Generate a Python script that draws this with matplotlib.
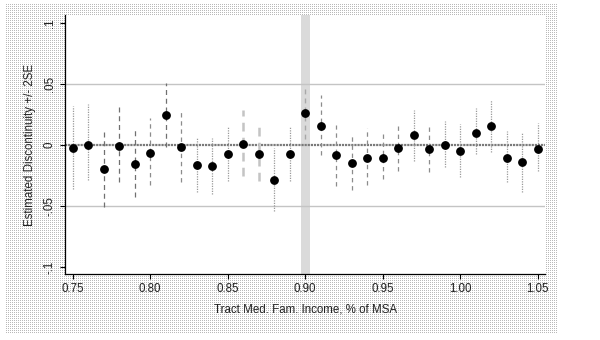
import numpy as np
import matplotlib
matplotlib.use("Agg")
import matplotlib.pyplot as plt

# Income cutoff bins (tract median family income as share of MSA median)
income = [0.75, 0.76, 0.77, 0.78, 0.79, 0.80, 0.81, 0.82, 0.83, 0.84, 0.85,
          0.86, 0.87, 0.88, 0.89, 0.90, 0.91, 0.92, 0.93, 0.94, 0.95, 0.96,
          0.97, 0.98, 0.99, 1.00, 1.01, 1.02, 1.03, 1.04, 1.05]

# Estimated discontinuity at each cutoff
estimate = [-0.0027, 0.0000, -0.0198, -0.0008, -0.0157, -0.0063, 0.0247,
            -0.0019, -0.0165, -0.0173, -0.0074, 0.0011, -0.0071, -0.0288,
            -0.0077, 0.0266, 0.0157, -0.0082, -0.0146, -0.0104, -0.0104,
            -0.0025, 0.0080, -0.0033, 0.0003, -0.0047, 0.0099, 0.0157,
            -0.0104, -0.0143, -0.0030]

# Lower and upper ends of +/- 2SE interval
lower = [-0.0357, -0.0288, -0.0508, -0.0302, -0.0426, -0.0324, -0.0014,
         -0.0302, -0.0385, -0.0398, -0.0294, -0.0255, -0.0294, -0.0544,
         -0.0294, 0.0052, -0.0082, -0.0335, -0.0371, -0.0324, -0.0280,
         -0.0214, -0.0132, -0.0220, -0.0179, -0.0261, -0.0077, -0.0060,
         -0.0302, -0.0385, -0.0212]
upper = [0.0324, 0.0335, 0.0110, 0.0324, 0.0124, 0.0220, 0.0508,
         0.0275, 0.0069, 0.0055, 0.0151, 0.0288, 0.0157, -0.0022,
         0.0157, 0.0480, 0.0407, 0.0165, 0.0082, 0.0137, 0.0096,
         0.0173, 0.0288, 0.0157, 0.0200, 0.0173, 0.0302, 0.0371,
         0.0115, 0.0110, 0.0179]

xticks = [0.75, 0.80, 0.85, 0.90, 0.95, 1.00, 1.05]
yticks = [-0.1, -0.05, 0, 0.05, 0.1]
ytick_labels = ["-.1", "-.05", "0", ".05", ".1"]
cutoff = 0.90

# Line style used for each interval
bar_style = ["dot", "dot", "dash", "dash", "dash", "dashm", "dash", "dashm",
             "dot", "dot", "dot", "thick", "thick", "dot", "dot", "dashl",
             "dashm", "dashm", "dashm", "dashm", "dashm", "dashm", "dot",
             "dashm", "dot", "dot", "dot", "dot", "dot", "dot", "dot"]
styles = {
    "dot":   dict(color="#9a9a9a", lw=0.9, ls=(0, (1, 1))),
    "dash":  dict(color="#707070", lw=0.9, ls=(0, (4, 3))),
    "dashm": dict(color="#8c8c8c", lw=0.9, ls=(0, (3.5, 3))),
    "dashl": dict(color="#a8a8a8", lw=1.0, ls=(0, (3.5, 3))),
    "thick": dict(color="#c4c4c4", lw=1.8, ls=(0, (3.5, 2.5))),
}

plt.rcParams["font.family"] = ["Liberation Sans", "DejaVu Sans"]

W, H = 600, 340
fig = plt.figure(figsize=(W / 100, H / 100), dpi=100, facecolor="white")

# Stippled outer frame
pat = np.ones((H, W, 3))
yy, xx = np.mgrid[0:H, 0:W]
inside = (xx >= 5) & (xx < 557) & (yy >= 4) & (yy < 334)
dots = inside & (xx % 2 == 0) & (yy % 2 == 0)
pat[dots] = 185 / 255
fig.figimage(pat, xo=0, yo=0, origin="upper", zorder=0)

ax = fig.add_axes([65 / W, 66 / H, 480 / W, 259 / H])
ax.set_facecolor("white")
ax.set_zorder(1)

ax.set_xlim(0.745, 1.0547)
ax.set_ylim(-0.1057, 0.1066)

ax.axvspan(cutoff - 0.0028, cutoff + 0.0028, facecolor="#dadada",
           edgecolor="none", zorder=1)

for yv in (-0.05, 0.05):
    ax.axhline(yv, color="#c4c4c4", lw=1.0, zorder=1)
ax.axhline(0, color="#7a7a7a", lw=1.6, ls=(0, (1, 0.4)), zorder=2)

for x, lo, hi, st in zip(income, lower, upper, bar_style):
    s = styles[st]
    ax.vlines(x, lo, hi, colors=s["color"], linewidths=s["lw"],
              linestyles=[s["ls"]], zorder=3)

ax.plot(income, estimate, "o", color="black", ms=5.3, mec="black", zorder=4)

for side in ("top", "right"):
    ax.spines[side].set_visible(False)
for side in ("left", "bottom"):
    ax.spines[side].set_color("black")
    ax.spines[side].set_linewidth(0.9)

ax.set_xticks(xticks)
ax.set_xticklabels([f"{t:.2f}" for t in xticks])
ax.set_yticks(yticks)
ax.set_yticklabels(ytick_labels, rotation=90, va="center")
ax.tick_params(axis="both", direction="out", length=3.5, width=0.8,
               colors="black", labelsize=8.3, labelcolor="#222222", pad=3)

ax.set_xlabel("Tract Med. Fam. Income, % of MSA", fontsize=8.3,
              color="#222222", labelpad=6)
ax.set_ylabel("Estimated Discontinuity +/- 2SE", fontsize=8.3,
              color="#222222", labelpad=6)

fig.savefig("out.png", dpi=100, facecolor="white")
